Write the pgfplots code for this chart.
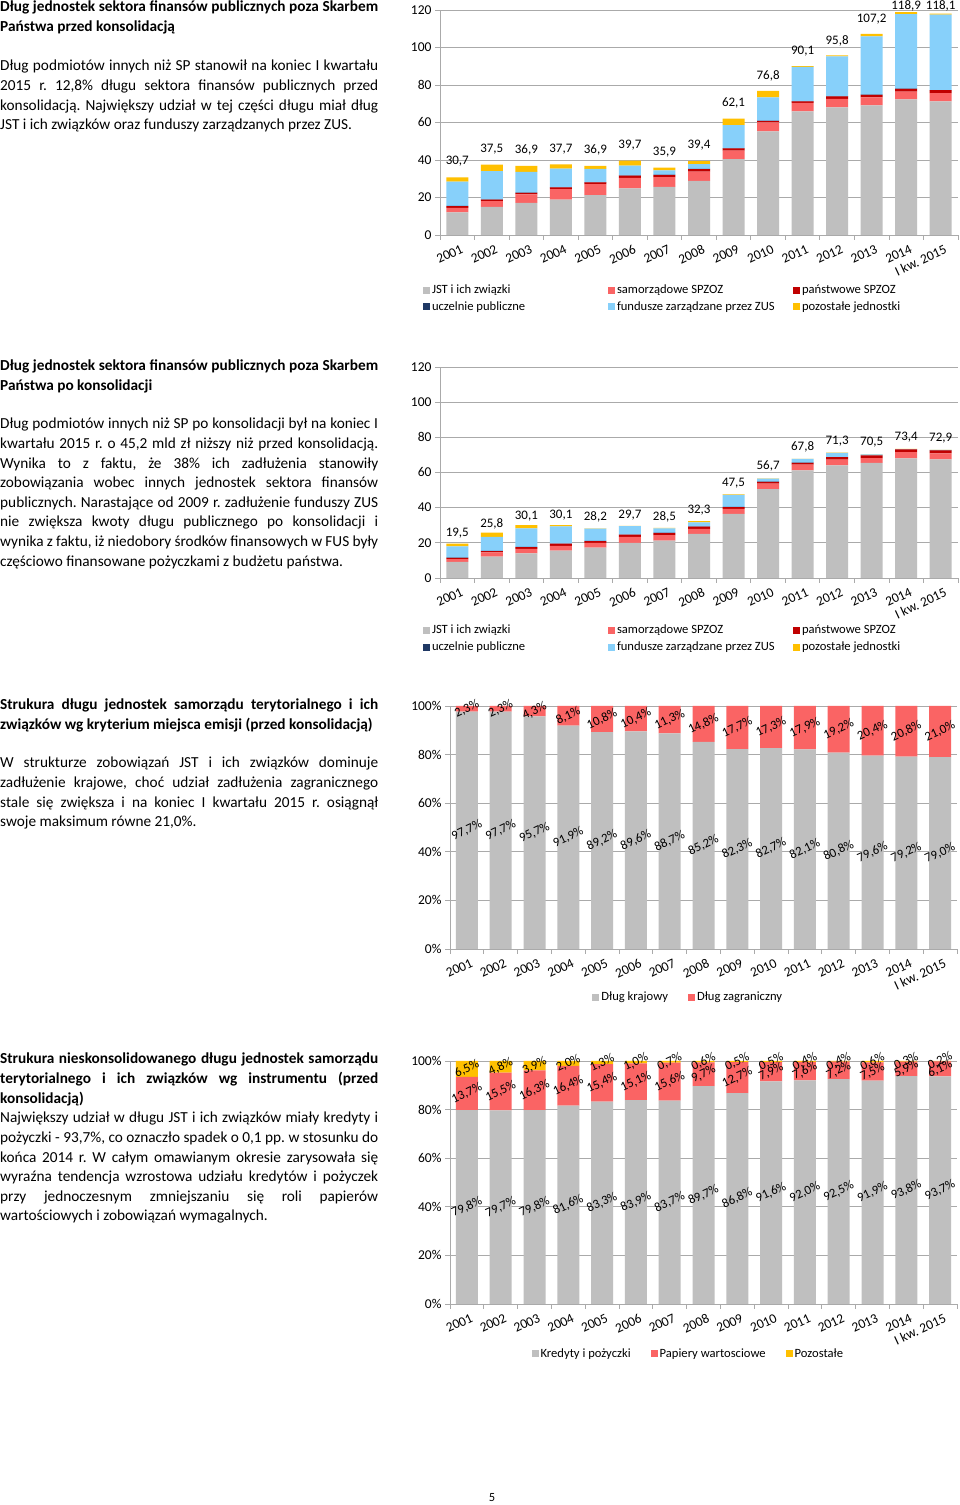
\documentclass[border=0pt]{standalone}
\usepackage{fontspec}
\setmainfont{Carlito}
\usepackage{pgfplots}
\usepackage{pgfplotstable}
\pgfplotsset{compat=1.18}
\frenchspacing

\definecolor{cjst}{RGB}{191,191,191}
\definecolor{csam}{RGB}{250,100,100}
\definecolor{cpan}{RGB}{192,0,0}
\definecolor{cucz}{RGB}{31,56,100}
\definecolor{czus}{RGB}{135,208,250}
\definecolor{cpoz}{RGB}{255,192,0}
\definecolor{cgrid}{RGB}{170,170,170}

\newcommand{\txt}{\fontsize{15.3}{19.6}\selectfont}
\newcommand{\jl}[1]{\makebox[378pt][s]{#1}\\}

% dlug przed konsolidacja (mld zl)
\pgfplotstableread{
x jst sam pan ucz zus poz
0 12.1 2.4 0.9 0.1 13.0 2.2
1 15.0 3.0 0.9 0.1 15.0 3.5
2 17.1 4.5 0.9 0.1 11.0 3.3
3 18.9 5.6 0.9 0.1 9.9 2.3
4 21.3 5.8 1.0 0.1 7.0 1.7
5 24.8 5.7 1.2 0.1 5.2 2.7
6 25.7 5.2 1.1 0.1 2.3 1.5
7 28.8 5.0 1.3 0.1 2.6 1.6
8 40.5 4.5 1.2 0.1 12.3 3.5
9 55.2 4.8 0.8 0.1 12.5 3.4
10 65.9 4.5 0.9 0.1 18.2 0.5
11 68.0 4.6 1.3 0.1 21.2 0.6
12 69.1 4.3 1.3 0.1 31.1 1.3
13 72.3 4.1 1.5 0.1 39.8 1.1
14 71.3 4.4 1.5 0.1 40.2 0.6
}\przed
\pgfplotstableread{
x pos lab
0 39.5 30,7
1 45.9 37,5
2 45.3 36,9
3 45.9 37,7
4 45.3 36,9
5 48.0 39,7
6 44.3 35,9
7 48.0 39,4
8 70.4 62,1
9 84.8 76,8
10 98.1 90,1
11 103.5 95,8
12 115.2 107,2
13 122.3 118,9
14 122.3 118,1
}\przedlab

% dlug po konsolidacji
\pgfplotstableread{
x jst sam pan ucz zus poz
0 9.1 1.7 0.7 0.1 6.4 1.5
1 12.1 2.5 0.7 0.1 8.0 2.4
2 14.0 2.6 1.0 0.1 10.5 1.9
3 15.5 2.8 1.2 0.1 9.7 0.8
4 17.2 2.8 1.0 0.1 7.0 0.1
5 20.0 3.4 1.2 0.1 4.8 0.2
6 21.2 3.2 1.2 0.1 2.5 0.3
7 25.1 2.9 1.2 0.1 2.4 0.6
8 36.5 2.8 1.0 0.1 6.8 0.3
9 50.5 3.2 1.0 0.1 1.7 0.2
10 61.2 3.3 1.0 0.1 2.1 0.1
11 64.1 3.2 1.4 0.1 2.3 0.2
12 65.4 2.8 1.5 0.1 0.5 0.2
13 68.0 3.6 1.5 0.1 0.1 0.1
14 67.5 3.4 1.7 0.1 0.1 0.1
}\po
\pgfplotstableread{
x pos lab
0 25.6 19,5
1 30.7 25,8
2 35.3 30,1
3 35.8 30,1
4 34.7 28,2
5 35.8 29,7
6 34.7 28,5
7 38.7 32,3
8 54.0 47,5
9 63.7 56,7
10 74.5 67,8
11 77.9 71,3
12 77.4 70,5
13 80.2 73,4
14 79.6 72,9
}\polab

% JST wg miejsca emisji (%)
\pgfplotstableread{
x kraj zagr
0 97.7 2.3
1 97.7 2.3
2 95.7 4.3
3 91.9 8.1
4 89.2 10.8
5 89.6 10.4
6 88.7 11.3
7 85.2 14.8
8 82.3 17.7
9 82.7 17.3
10 82.1 17.9
11 80.8 19.2
12 79.6 20.4
13 79.2 20.8
14 79.0 21.0
}\miejsce
\pgfplotstableread{
x kp kl zp zl
0 48.85 97,7 98.85 2,3
1 48.85 97,7 98.85 2,3
2 47.85 95,7 97.85 4,3
3 45.95 91,9 95.95 8,1
4 44.60 89,2 94.60 10,8
5 44.80 89,6 94.80 10,4
6 44.35 88,7 94.35 11,3
7 42.60 85,2 92.60 14,8
8 41.15 82,3 91.15 17,7
9 41.35 82,7 91.35 17,3
10 41.05 82,1 91.05 17,9
11 40.40 80,8 90.40 19,2
12 39.80 79,6 89.80 20,4
13 39.60 79,2 89.60 20,8
14 39.50 79,0 89.50 21,0
}\miejscelab

% JST wg instrumentu (%)
\pgfplotstableread{
x kred pap poz
0 79.8 13.7 6.5
1 79.7 15.5 4.8
2 79.8 16.3 3.9
3 81.6 16.4 2.0
4 83.3 15.4 1.3
5 83.9 15.1 1.0
6 83.7 15.6 0.7
7 89.7 9.7 0.6
8 86.8 12.7 0.5
9 91.6 7.9 0.5
10 92.0 7.6 0.4
11 92.5 7.2 0.4
12 91.9 7.5 0.6
13 93.8 5.9 0.3
14 93.7 6.1 0.2
}\instr
\pgfplotstableread{
x kp kl pp pl op ol
0 39.90 79,8 86.65 13,7 96.75 6,5
1 39.85 79,7 87.45 15,5 97.60 4,8
2 39.90 79,8 87.95 16,3 98.05 3,9
3 40.80 81,6 89.80 16,4 99.00 2,0
4 41.65 83,3 91.00 15,4 99.35 1,3
5 41.95 83,9 91.45 15,1 99.50 1,0
6 41.85 83,7 91.50 15,6 99.65 0,7
7 44.85 89,7 94.55 9,7 99.70 0,6
8 43.40 86,8 93.15 12,7 99.75 0,5
9 45.80 91,6 95.55 7,9 99.75 0,5
10 46.00 92,0 95.80 7,6 99.80 0,4
11 46.25 92,5 96.10 7,2 99.80 0,4
12 45.95 91,9 95.65 7,5 99.70 0,6
13 46.90 93,8 96.75 5,9 99.85 0,3
14 46.85 93,7 96.75 6,1 99.90 0,2
}\instrlab

\pgfplotsset{
  ramka/.style={
    scale only axis, anchor=south west,
    xmin=-0.5, xmax=14.5, ymin=0,
  },
  lata/.style={
    ramka,
    axis lines*=left, axis line style={cgrid, line width=0.8pt},
    ymajorgrids, grid style={cgrid, line width=0.8pt},
    xtick={0,...,14},
    xticklabels={2001,2002,2003,2004,2005,2006,2007,2008,2009,2010,2011,2012,2013,2014,I kw. 2015},
    minor xtick={-0.5,0.5,...,14.5},
    tick align=outside, major tick length=5pt, minor tick length=5pt,
    major x tick style={draw=none},
    minor x tick style={cgrid, line width=0.8pt},
    major y tick style={cgrid, line width=0.8pt},
    ticklabel style={font=\fontsize{13.5}{14}\selectfont, text=black},
    xticklabel style={rotate=25, anchor=north east, inner sep=1pt, yshift=-4pt, xshift=2pt},
    /pgf/number format/assume math mode=true,
    ybar stacked, bar width=22pt,
    legend cell align=left,
    legend image code/.code={\fill[##1,draw=none] (0pt,-3.5pt) rectangle (7pt,3.5pt);},
    legend style={draw=none, fill=none, font=\fontsize{12.6}{13}\selectfont, row sep=2.5pt},
  },
  sumy/.style={
    ramka, hide axis, clip=false,
    nodes near coords, point meta=explicit symbolic,
    every node near coord/.append style={font=\fontsize{13}{14}\selectfont, anchor=center, text=black},
  },
  procenty/.style={
    ramka, hide axis, clip=false, ymax=100,
    nodes near coords={\pgfplotspointmeta\%}, point meta=explicit symbolic,
    every node near coord/.append style={font=\fontsize{12.8}{13}\selectfont, anchor=center,
      text=black, rotate=25, inner sep=0pt},
  },
  udzialy/.style={
    ymax=100, ytick={0,20,...,100},
    yticklabel={\pgfmathprintnumber{\tick}\%},
  },
}

\begin{document}
\begin{tikzpicture}
\useasboundingbox (0,0) rectangle (960pt,1505pt);
\fill[white] (0,0) rectangle (960pt,1505pt);

% teksty
\node[anchor=north west, inner sep=0pt, align=left, font=\bfseries\txt] at (0pt,1504pt)
  {\jl{Dług jednostek sektora finansów publicznych poza Skarbem} Państwa przed konsolidacją};
\node[anchor=north west, inner sep=0pt, align=left, font=\txt] at (0pt,1445pt)
  {\jl{Dług podmiotów innych niż SP stanowił na koniec I kwartału}
   \jl{2015 r. 12,8\% długu sektora finansów publicznych przed}
   \jl{konsolidacją. Największy udział w tej części długu miał dług}
   JST i ich związków oraz funduszy zarządzanych przez ZUS.};

\node[anchor=north west, inner sep=0pt, align=left, font=\bfseries\txt] at (0pt,1145pt)
  {\jl{Dług jednostek sektora finansów publicznych poza Skarbem} Państwa po konsolidacji};
\node[anchor=north west, inner sep=0pt, align=left, font=\txt] at (0pt,1087pt)
  {\jl{Dług podmiotów innych niż SP po konsolidacji był na koniec I}
   \jl{kwartału 2015 r. o  45,2 mld zł niższy niż przed konsolidacją.}
   \jl{Wynika to z faktu, że 38\% ich zadłużenia stanowiły}
   \jl{zobowiązania wobec innych jednostek sektora finansów}
   \jl{publicznych. Narastające od 2009 r.  zadłużenie funduszy ZUS}
   \jl{nie zwiększa kwoty długu publicznego po konsolidacji i}
   \jl{wynika z faktu, iż niedobory środków finansowych w FUS były}
   częściowo finansowane pożyczkami z budżetu państwa.};

\node[anchor=north west, inner sep=0pt, align=left, font=\bfseries\txt] at (0pt,806pt)
  {\jl{Strukura długu jednostek samorządu terytorialnego i ich} związków wg kryterium miejsca emisji (przed konsolidacją)};
\node[anchor=north west, inner sep=0pt, align=left, font=\txt] at (0pt,748pt)
  {\jl{W strukturze zobowiązań JST i ich związków dominuje}
   \jl{zadłużenie krajowe, choć udział zadłużenia zagranicznego}
   \jl{stale się zwiększa i na koniec I kwartału 2015 r. osiągnął}
   swoje maksimum równe 21,0\%.};

\node[anchor=north west, inner sep=0pt, align=left, font=\bfseries\txt] at (0pt,452pt)
  {\jl{Strukura nieskonsolidowanego długu jednostek samorządu}
   \jl{terytorialnego i ich związków wg instrumentu (przed}
   konsolidacją)};
\node[anchor=north west, inner sep=0pt, align=left, font=\txt] at (0pt,393pt)
  {\jl{Największy udział w długu JST i ich związków miały kredyty i}
   \jl{pożyczki - 93,7\%, co oznaczło spadek o 0,1 pp. w stosunku do}
   \jl{końca 2014 r. W całym omawianym okresie zarysowała się}
   \jl{wyraźna tendencja wzrostowa udziału kredytów i pożyczek}
   \jl{przy jednoczesnym zmniejszaniu się roli papierów}
   wartościowych i zobowiązań wymagalnych.};

\node[font=\fontsize{12.5}{13}\selectfont] at (492pt,7pt) {5};

% wykres 1
\begin{axis}[lata, at={(440pt,1270pt)}, width=518pt, height=225pt,
  ymax=120, ytick={0,20,...,120},
  legend columns=3,
  legend style={at={(-0.039,-0.204)}, anchor=north west}]
\addplot[fill=cjst, draw=none] table[x=x,y=jst]{\przed};
\addlegendentry{\makebox[174pt][l]{JST i ich związki}}
\addplot[fill=csam, draw=none] table[x=x,y=sam]{\przed};
\addlegendentry{\makebox[174pt][l]{samorządowe SPZOZ}}
\addplot[fill=cpan, draw=none] table[x=x,y=pan]{\przed};
\addlegendentry{państwowe SPZOZ}
\addplot[fill=cucz, draw=none] table[x=x,y=ucz]{\przed};
\addlegendentry{\makebox[174pt][l]{uczelnie publiczne}}
\addplot[fill=czus, draw=none] table[x=x,y=zus]{\przed};
\addlegendentry{\makebox[174pt][l]{fundusze zarządzane przez ZUS}}
\addplot[fill=cpoz, draw=none] table[x=x,y=poz]{\przed};
\addlegendentry{pozostałe jednostki}
\end{axis}
\begin{axis}[sumy, at={(440pt,1270pt)}, width=518pt, height=225pt, ymax=120]
\addplot[draw=none, mark=none] table[x=x,y=pos,meta=lab]{\przedlab};
\end{axis}

% wykres 2
\begin{axis}[lata, at={(440pt,927pt)}, width=518pt, height=211pt,
  ymax=120, ytick={0,20,...,120},
  legend columns=3,
  legend style={at={(-0.039,-0.204)}, anchor=north west}]
\addplot[fill=cjst, draw=none] table[x=x,y=jst]{\po};
\addlegendentry{\makebox[174pt][l]{JST i ich związki}}
\addplot[fill=csam, draw=none] table[x=x,y=sam]{\po};
\addlegendentry{\makebox[174pt][l]{samorządowe SPZOZ}}
\addplot[fill=cpan, draw=none] table[x=x,y=pan]{\po};
\addlegendentry{państwowe SPZOZ}
\addplot[fill=cucz, draw=none] table[x=x,y=ucz]{\po};
\addlegendentry{\makebox[174pt][l]{uczelnie publiczne}}
\addplot[fill=czus, draw=none] table[x=x,y=zus]{\po};
\addlegendentry{\makebox[174pt][l]{fundusze zarządzane przez ZUS}}
\addplot[fill=cpoz, draw=none] table[x=x,y=poz]{\po};
\addlegendentry{pozostałe jednostki}
\end{axis}
\begin{axis}[sumy, at={(440pt,927pt)}, width=518pt, height=211pt, ymax=120]
\addplot[draw=none, mark=none] table[x=x,y=pos,meta=lab]{\polab};
\end{axis}

% wykres 3
\begin{axis}[lata, udzialy, at={(450pt,556pt)}, width=507pt, height=243pt,
  legend columns=2,
  legend style={at={(0.47,-0.16)}, anchor=north,
    /tikz/every even column/.append style={column sep=18pt}}]
\addplot[fill=cjst, draw=none] table[x=x,y=kraj]{\miejsce};
\addlegendentry{Dług krajowy}
\addplot[fill=csam, draw=none] table[x=x,y=zagr]{\miejsce};
\addlegendentry{Dług zagraniczny}
\end{axis}
\begin{axis}[procenty, at={(450pt,556pt)}, width=507pt, height=243pt]
\addplot[draw=none, mark=none] table[x=x,y=kp,meta=kl]{\miejscelab};
\addplot[draw=none, mark=none] table[x=x,y=zp,meta=zl]{\miejscelab};
\end{axis}

% wykres 4
\begin{axis}[lata, udzialy, at={(450pt,201pt)}, width=507pt, height=243pt,
  legend columns=3,
  legend style={at={(0.47,-0.165)}, anchor=north,
    /tikz/every even column/.append style={column sep=18pt}}]
\addplot[fill=cjst, draw=none] table[x=x,y=kred]{\instr};
\addlegendentry{Kredyty i pożyczki}
\addplot[fill=csam, draw=none] table[x=x,y=pap]{\instr};
\addlegendentry{Papiery wartosciowe}
\addplot[fill=cpoz, draw=none] table[x=x,y=poz]{\instr};
\addlegendentry{Pozostałe}
\end{axis}
\begin{axis}[procenty, at={(450pt,201pt)}, width=507pt, height=243pt]
\addplot[draw=none, mark=none] table[x=x,y=kp,meta=kl]{\instrlab};
\addplot[draw=none, mark=none] table[x=x,y=pp,meta=pl]{\instrlab};
\addplot[draw=none, mark=none] table[x=x,y=op,meta=ol]{\instrlab};
\end{axis}
\end{tikzpicture}
\end{document}
